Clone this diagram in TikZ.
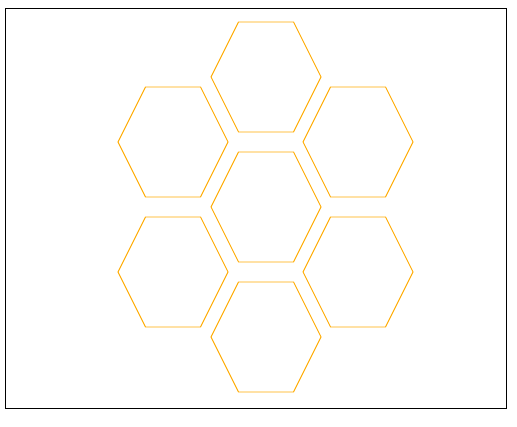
\documentclass[tikz,border=0pt]{standalone}
\definecolor{hexorange}{RGB}{255,170,0}
\begin{document}
\begin{tikzpicture}[x=1pt,y=-1pt,
  hexcell/.style={draw=hexorange,line width=0.9pt,line join=miter},
  frame/.style={draw=black,line width=1pt}]
\useasboundingbox (0,0) rectangle (517,427);
\draw[frame] (5.5,8.5) rectangle (506,409);
\foreach \name/\cx/\cy in {top/266/77, ul/173/142, ur/358/142, mid/266/207, ll/173/272, lr/358/272, bot/266/337}{
  \coordinate (\name) at (\cx,\cy);
  \draw[hexcell] ([shift={(-55,0)}]\name) -- ([shift={(-27.5,-55)}]\name) -- ([shift={(27.5,-55)}]\name)
    -- ([shift={(55,0)}]\name) -- ([shift={(27.5,55)}]\name) -- ([shift={(-27.5,55)}]\name) -- cycle;
}
\end{tikzpicture}
\end{document}
